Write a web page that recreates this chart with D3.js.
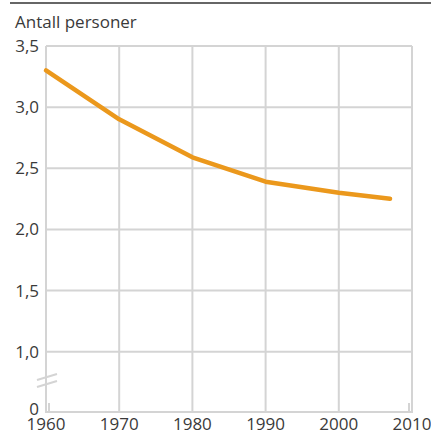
<!DOCTYPE html>
<html>
<head>
<meta charset="utf-8">
<script src="https://cdn.jsdelivr.net/npm/d3@7"></script>
<style>
  body { margin: 0; background: #fff; }
  text { font-family: "Open Sans", "Noto Sans", sans-serif; fill: #3a3a3a; }
</style>
</head>
<body>
<div id="chart"></div>
<script>
// data
const years = [1960, 1970, 1980, 1990, 2000, 2007];
const persons = [3.3, 2.9, 2.59, 2.39, 2.3, 2.25];
const xTicks = [1960, 1970, 1980, 1990, 2000, 2010];
const yTicks = [0, 1.0, 1.5, 2.0, 2.5, 3.0, 3.5];

const W = 431, H = 436;
const mLeft = 46, mRight = 412, mTop = 46, mBottom = 412;
const fmt = d3.format(".1f");
const fs = "17px";

const svg = d3.select("#chart").append("svg")
    .attr("width", W).attr("height", H);

const x = d3.scaleLinear().domain([1960, 2010]).range([mLeft, mRight]);
// broken axis: 0..1 squeezed
const y = d3.scaleLinear().domain([0, 1, 3.5]).range([mBottom, 351.7, mTop]);

const grid = "#d4d4d4";

// top rule
svg.append("line")
    .attr("x1", 10).attr("x2", W).attr("y1", 3).attr("y2", 3)
    .attr("stroke", "#333").attr("stroke-width", 1.5);

svg.append("text")
    .attr("x", 15).attr("y", 28)
    .style("font-size", "17px")
    .text("Antall personer");

// horizontal grid
svg.append("g").selectAll("line")
    .data(yTicks.filter(d => d > 0))
    .join("line")
    .attr("x1", mLeft).attr("x2", mRight)
    .attr("y1", d => y(d)).attr("y2", d => y(d))
    .attr("stroke", grid).attr("stroke-width", 2);

// vertical grid
svg.append("g").selectAll("line")
    .data(xTicks)
    .join("line")
    .attr("x1", d => x(d)).attr("x2", d => x(d))
    .attr("y1", mTop).attr("y2", mBottom)
    .attr("stroke", grid).attr("stroke-width", 2);

// bottom axis line
svg.append("line")
    .attr("x1", mLeft - 1).attr("x2", mRight + 1)
    .attr("y1", mBottom).attr("y2", mBottom)
    .attr("stroke", grid).attr("stroke-width", 2);

// small corner stubs
[mLeft + 3, mRight - 3].forEach(px => {
  svg.append("line")
    .attr("x1", px).attr("x2", px)
    .attr("y1", mBottom - 9).attr("y2", mBottom)
    .attr("stroke", grid).attr("stroke-width", 2);
});

// axis break marks
[0, 7].forEach(off => {
  svg.append("line")
    .attr("x1", 37).attr("y1", 387 - off)
    .attr("x2", 57).attr("y2", 381 - off)
    .attr("stroke", grid).attr("stroke-width", 2);
});

// y labels
svg.append("g").selectAll("text")
    .data(yTicks)
    .join("text")
    .attr("x", 39)
    .attr("y", d => d === 0 ? 415 : y(d) + 6)
    .attr("text-anchor", "end")
    .style("font-size", fs)
    .text(d => d === 0 ? "0" : fmt(d).replace(".", ","));

// x labels
svg.append("g").selectAll("text")
    .data(xTicks)
    .join("text")
    .attr("x", d => x(d))
    .attr("y", 430)
    .attr("text-anchor", "middle")
    .style("font-size", fs)
    .text(d => d);

// line
const line = d3.line()
    .x((d, i) => x(years[i]))
    .y(d => y(d));

svg.append("path")
    .datum(persons)
    .attr("d", line)
    .attr("fill", "none")
    .attr("stroke", "#eb981c")
    .attr("stroke-width", 4.5)
    .attr("stroke-linejoin", "round")
    .attr("stroke-linecap", "round");
</script>
</body>
</html>
